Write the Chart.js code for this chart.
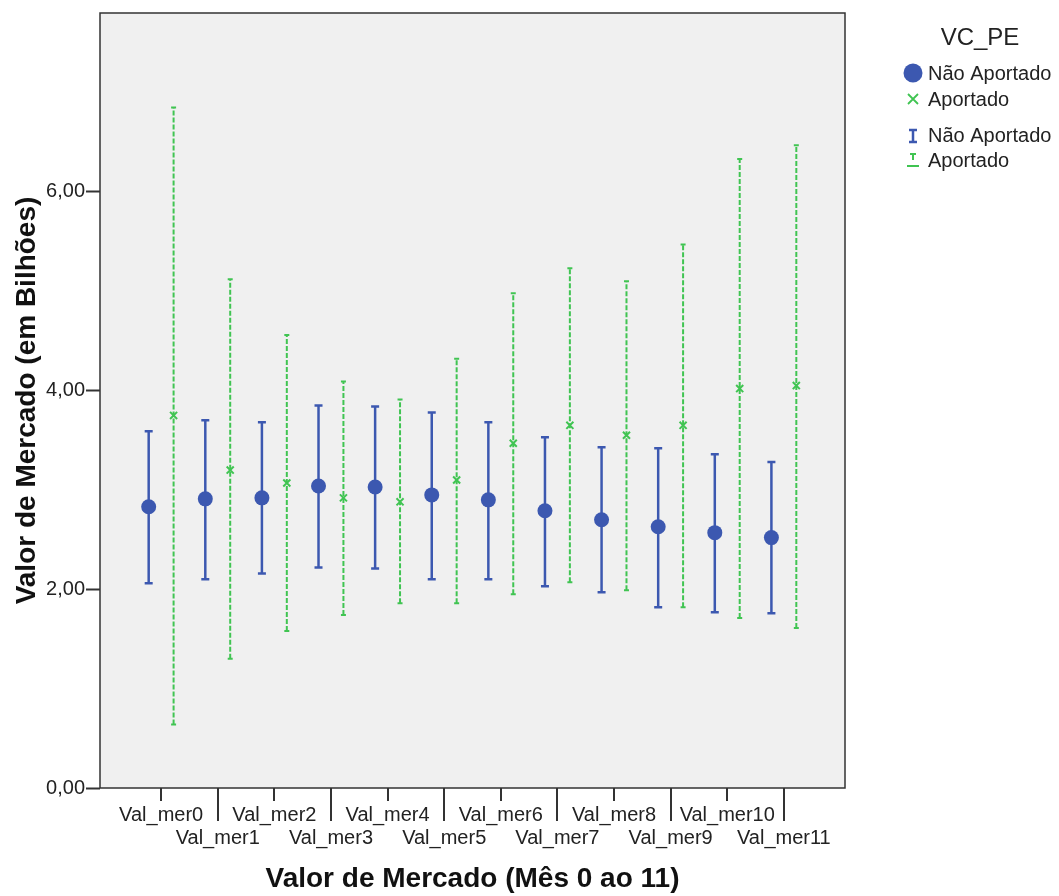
<!DOCTYPE html>
<html>
<head>
<meta charset="utf-8">
<script src="https://cdn.jsdelivr.net/npm/chart.js@4.4.1/dist/chart.umd.min.js"></script>
<style>
  html, body { margin: 0; padding: 0; background: #ffffff; }
  #wrap { width: 1059px; height: 896px; position: relative; }
</style>
</head>
<body>
<div id="wrap"><canvas id="chart"></canvas></div>
<script>
// categories and values
const categories = ['Val_mer0', 'Val_mer1', 'Val_mer2', 'Val_mer3', 'Val_mer4', 'Val_mer5',
                    'Val_mer6', 'Val_mer7', 'Val_mer8', 'Val_mer9', 'Val_mer10', 'Val_mer11'];
const naoMean = [2.83, 2.91, 2.92, 3.04, 3.03, 2.95, 2.90, 2.79, 2.70, 2.63, 2.57, 2.52];
const naoLow  = [2.06, 2.10, 2.16, 2.22, 2.21, 2.10, 2.10, 2.03, 1.97, 1.82, 1.77, 1.76];
const naoHigh = [3.59, 3.70, 3.68, 3.85, 3.84, 3.78, 3.68, 3.53, 3.43, 3.42, 3.36, 3.28];
const apMean  = [3.75, 3.20, 3.07, 2.92, 2.88, 3.10, 3.47, 3.65, 3.55, 3.65, 4.02, 4.05];
const apLow   = [0.64, 1.30, 1.58, 1.74, 1.86, 1.86, 1.95, 2.07, 1.99, 1.82, 1.71, 1.61];
const apHigh  = [6.85, 5.12, 4.56, 4.09, 3.91, 4.32, 4.98, 5.23, 5.10, 5.47, 6.33, 6.47];
const yTicks = [0, 2, 4, 6];

const BLUE = 'rgb(60, 88, 176)';
const GREEN = 'rgb(64, 196, 82)';
const FONT = 'Arial, "Liberation Sans", sans-serif';
const OFF = 0.22;

const errorBars = {
    id: 'errorBars',
    beforeDatasetsDraw(chart) {
        const ctx = chart.ctx;
        const xs = chart.scales.x, ys = chart.scales.y;
        const groups = [
            {low: naoLow, high: naoHigh, dx: -OFF, color: BLUE, dash: [], width: 2.5, cap: 4},
            {low: apLow, high: apHigh, dx: OFF, color: GREEN, dash: [5, 2], width: 2, cap: 2.5}
        ];
        ctx.save();
        groups.forEach(g => {
            ctx.strokeStyle = g.color;
            ctx.lineWidth = g.width;
            g.low.forEach((lo, i) => {
                const x = xs.getPixelForValue(i + g.dx);
                const y1 = ys.getPixelForValue(lo);
                const y2 = ys.getPixelForValue(g.high[i]);
                ctx.setLineDash(g.dash);
                ctx.beginPath();
                ctx.moveTo(x, y1);
                ctx.lineTo(x, y2);
                ctx.stroke();
                ctx.setLineDash([]);
                ctx.beginPath();
                ctx.moveTo(x - g.cap, y1); ctx.lineTo(x + g.cap, y1);
                ctx.moveTo(x - g.cap, y2); ctx.lineTo(x + g.cap, y2);
                ctx.stroke();
            });
        });
        ctx.restore();
    },
    afterDraw(chart) {
        const ctx = chart.ctx;
        const a = chart.chartArea;
        const xs = chart.scales.x;
        ctx.save();
        // frame
        ctx.strokeStyle = '#333';
        ctx.lineWidth = 1.5;
        ctx.strokeRect(a.left, a.top, a.right - a.left, a.bottom - a.top);
        // x ticks: short under even labels, long between staggered rows
        ctx.lineWidth = 2;
        categories.forEach((c, i) => {
            const x = Math.round(xs.getPixelForValue(i));
            ctx.beginPath();
            ctx.moveTo(x, a.bottom);
            ctx.lineTo(x, a.bottom + (i % 2 ? 33 : 13));
            ctx.stroke();
        });
        // legend
        ctx.fillStyle = '#222';
        ctx.font = '24px ' + FONT;
        ctx.textAlign = 'center';
        ctx.textBaseline = 'middle';
        ctx.fillText('VC_PE', 980, 38);
        ctx.font = '20px ' + FONT;
        ctx.textAlign = 'left';
        const mx = 913, tx = 928;
        ctx.fillText('Não Aportado', tx, 74);
        ctx.fillText('Aportado', tx, 100);
        ctx.fillText('Não Aportado', tx, 136);
        ctx.fillText('Aportado', tx, 161);
        ctx.fillStyle = BLUE;
        ctx.beginPath();
        ctx.arc(mx, 73, 9.5, 0, Math.PI * 2);
        ctx.fill();
        ctx.strokeStyle = GREEN;
        ctx.lineWidth = 1.8;
        ctx.beginPath();
        ctx.moveTo(mx - 5, 94); ctx.lineTo(mx + 5, 104);
        ctx.moveTo(mx + 5, 94); ctx.lineTo(mx - 5, 104);
        ctx.stroke();
        ctx.strokeStyle = BLUE;
        ctx.lineWidth = 2.5;
        ctx.beginPath();
        ctx.moveTo(mx, 130); ctx.lineTo(mx, 142);
        ctx.moveTo(mx - 4, 130); ctx.lineTo(mx + 4, 130);
        ctx.moveTo(mx - 4, 142); ctx.lineTo(mx + 4, 142);
        ctx.stroke();
        ctx.strokeStyle = GREEN;
        ctx.lineWidth = 2;
        ctx.beginPath();
        ctx.moveTo(mx, 154); ctx.lineTo(mx, 160);
        ctx.moveTo(mx - 3, 154); ctx.lineTo(mx + 3, 154);
        ctx.moveTo(mx - 6, 166); ctx.lineTo(mx + 6, 166);
        ctx.stroke();
        ctx.restore();
    }
};

const plotBackground = {
    id: 'plotBackground',
    beforeDraw(chart) {
        const a = chart.chartArea;
        chart.ctx.save();
        chart.ctx.fillStyle = '#f0f0f0';
        chart.ctx.fillRect(a.left, a.top, a.right - a.left, a.bottom - a.top);
        chart.ctx.restore();
    }
};

const ctx = document.getElementById('chart').getContext('2d');
const chart = new Chart(ctx, {
    type: 'scatter',
    data: {
        datasets: [{
            label: 'Não Aportado',
            data: naoMean.map((v, i) => ({x: i - OFF, y: v})),
            backgroundColor: BLUE,
            borderColor: BLUE,
            pointRadius: 7.5,
            borderWidth: 0
        }, {
            label: 'Aportado',
            data: apMean.map((v, i) => ({x: i + OFF, y: v})),
            pointStyle: 'crossRot',
            borderColor: GREEN,
            backgroundColor: GREEN,
            pointRadius: 5,
            borderWidth: 2
        }]
    },
    options: {
        responsive: true,
        maintainAspectRatio: false,
        animation: false,
        events: [],
        layout: {
            padding: {top: 10, right: 214, left: 0, bottom: 0}
        },
        plugins: {
            legend: {display: false},
            tooltip: {enabled: false}
        },
        scales: {
            x: {
                type: 'linear',
                min: -1.08,
                max: 12.08,
                afterBuildTicks: scale => {
                    scale.ticks = categories.map((c, i) => ({value: i}));
                },
                afterFit: scale => { scale.height = 108; },
                grid: {display: false, drawTicks: false},
                border: {display: false},
                ticks: {
                    autoSkip: false,
                    maxRotation: 0,
                    padding: 16,
                    color: '#222',
                    font: {family: FONT, size: 20, lineHeight: '23px'},
                    callback: value => {
                        const c = categories[value];
                        return value % 2 ? ['', c] : [c];
                    }
                },
                title: {
                    display: true,
                    text: 'Valor de Mercado (Mês 0 ao 11)',
                    color: '#111',
                    font: {family: FONT, size: 28, weight: 'bold'},
                    padding: {top: 0, bottom: 0}
                }
            },
            y: {
                min: 0,
                max: 7.8,
                afterBuildTicks: scale => {
                    scale.ticks = yTicks.map(v => ({value: v}));
                },
                afterFit: scale => { scale.width = 100; },
                grid: {
                    drawOnChartArea: false,
                    tickLength: 14,
                    tickColor: '#333',
                    tickWidth: 2
                },
                border: {display: false},
                ticks: {
                    padding: 1,
                    color: '#222',
                    font: {family: FONT, size: 20},
                    callback: value => value.toFixed(2).replace('.', ',')
                },
                title: {
                    display: true,
                    text: 'Valor de Mercado (em Bilhões)',
                    color: '#111',
                    font: {family: FONT, size: 28, weight: 'bold'},
                    padding: {top: 10, bottom: 0}
                }
            }
        }
    },
    plugins: [plotBackground, errorBars]
});
</script>
</body>
</html>
